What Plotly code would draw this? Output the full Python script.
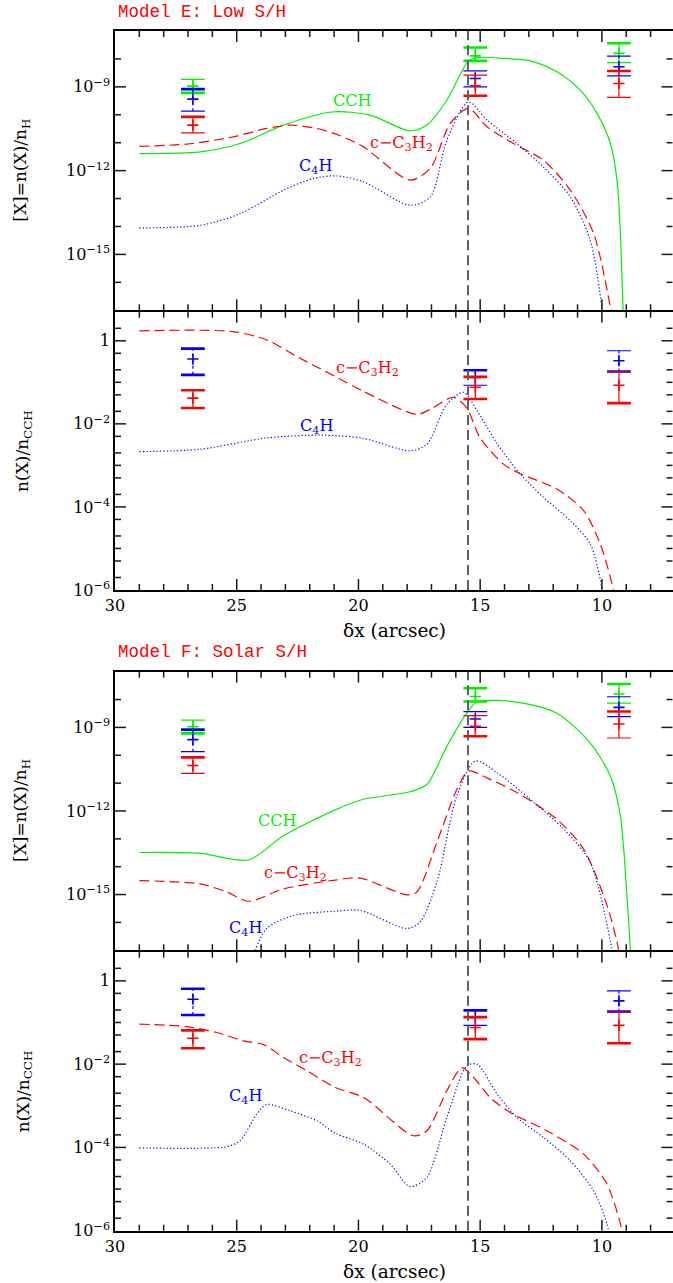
import numpy as np
import plotly.graph_objects as go

# ---------------- model curves (log10 of value) ----------------
# Model E : abundances [X] = n(X)/n_H
E_CCH_X = [29, 26.5, 24.86, 23.08, 21.1, 19.52, 17.88, 17.19, 16.37, 15.48, 15.13, 14.04, 12.94, 11.85, 10.89, 10.2, 9.65, 9.38, 9.24, 9.13, 9.08]
E_CCH_L = [-11.39, -11.33, -11.03, -10.37, -9.90, -10.01, -10.58, -10.37, -9.48, -8.07, -7.95, -7.98, -8.07, -8.46, -9.12, -9.95, -11.03, -12.34, -14.25, -17.0, -18.0]

E_C3H2_X = [29, 27.05, 25.14, 23.77, 22.81, 21.71, 20.75, 19.79, 17.88, 17.05, 16.23, 15.48, 14.72, 13.63, 12.4, 11.3, 10.34, 9.65, 9.5]
E_C3H2_L = [-11.13, -11.05, -10.79, -10.49, -10.37, -10.49, -10.75, -11.15, -12.34, -11.92, -10.31, -9.77, -10.43, -11.03, -11.63, -12.70, -14.25, -16.88, -17.6]

E_C4H_X = [29, 26.5, 24.86, 23.08, 21.85, 20.9, 19.79, 17.88, 17.05, 16.37, 15.48, 14.72, 13.49, 12.4, 11.3, 10.48, 10.0, 9.9]
E_C4H_L = [-14.05, -13.96, -13.54, -12.70, -12.28, -12.19, -12.40, -13.24, -12.94, -10.91, -9.54, -10.19, -11.03, -11.87, -12.94, -14.49, -16.88, -17.6]

# Model E : ratios n(X)/n_CCH
E_R_C3H2_X = [29, 25.14, 23.77, 22.4, 20.95, 19.79, 17.6, 17.05, 16.1, 15.55, 15.0, 14.04, 13.35, 11.85, 10.75, 10.07, 9.52, 9.45]
E_R_C3H2_L = [0.24, 0.22, 0.02, -0.42, -0.86, -1.22, -1.77, -1.65, -1.36, -1.62, -2.34, -2.97, -3.20, -3.57, -4.09, -4.89, -6.01, -6.3]

E_R_C4H_X = [29, 26.5, 23.77, 21.57, 19.79, 17.88, 17.19, 16.37, 15.68, 15.13, 14.3, 13.35, 12.4, 11.3, 10.48, 10.0, 9.9]
E_R_C4H_L = [-2.67, -2.61, -2.34, -2.27, -2.35, -2.65, -2.49, -1.53, -1.24, -1.68, -2.48, -3.21, -3.77, -4.33, -4.89, -5.93, -6.3]

# Model F : abundances
F_CCH_X = [29, 26.5, 24.52, 23.08, 20.95, 19.79, 17.88, 17.19, 16.37, 15.55, 15.13, 13.49, 11.85, 10.48, 9.65, 9.24, 8.97, 8.83, 8.78]
F_CCH_L = [-13.49, -13.52, -13.76, -12.89, -11.96, -11.58, -11.31, -11.05, -9.68, -8.49, -8.09, -8.09, -8.49, -9.56, -10.75, -12.18, -15.04, -17.0, -18.0]

F_C3H2_X = [29, 26.5, 25.4, 24.52, 23.08, 20.95, 19.93, 18.01, 17.6, 16.78, 15.96, 15.48, 14.72, 13.49, 11.85, 10.75, 9.79, 9.35, 9.25]
F_C3H2_L = [-14.5, -14.62, -14.91, -15.24, -14.80, -14.48, -14.41, -15.01, -14.91, -13.13, -11.23, -10.57, -10.81, -11.34, -12.30, -13.37, -15.39, -16.82, -17.4]

F_C4H_X = [29, 26.5, 25.0, 24.4, 24.25, 23.77, 22.67, 20.95, 19.93, 18.01, 17.47, 16.78, 15.96, 15.2, 14.3, 12.94, 11.57, 10.48, 9.59, 9.5]
F_C4H_L = [-17.5, -17.5, -17.5, -17.3, -17.0, -16.22, -15.75, -15.6, -15.57, -16.22, -15.99, -14.56, -11.46, -10.21, -10.63, -11.58, -12.65, -13.84, -16.94, -17.4]

# Model F : ratios
F_R_C3H2_X = [29, 27.05, 25.82, 24.73, 23.9, 23.08, 22.12, 20.95, 19.79, 17.74, 17.19, 16.37, 15.75, 15.27, 14.59, 13.77, 12.26, 10.75, 9.79, 9.17, 9.1]
F_R_C3H2_L = [-1.04, -1.10, -1.24, -1.44, -1.53, -1.84, -2.16, -2.56, -2.80, -3.72, -3.60, -2.64, -2.09, -2.32, -2.80, -3.16, -3.60, -4.16, -4.88, -6.0, -6.3]

F_R_C4H_X = [29, 25.41, 24.86, 24.18, 23.77, 22.81, 21.71, 20.95, 19.79, 18.7, 17.88, 17.19, 16.37, 15.55, 15.13, 14.3, 13.49, 12.4, 11.3, 10.34, 9.79, 9.7]
F_R_C4H_L = [-4.01, -3.98, -3.84, -3.20, -2.97, -3.12, -3.36, -3.66, -3.92, -4.40, -4.94, -4.72, -3.28, -2.04, -2.0, -2.72, -3.28, -3.76, -4.32, -5.04, -5.84, -6.1]

# ---------------- observations (log10) ----------------
OBS_X = [26.8, 15.2, 9.3]
OBS_CCH = [-8.975, -7.89, -7.80]
OBS_CCH_LO = [-9.215, -8.07, -8.13]
OBS_CCH_HI = [-8.735, -7.59, -7.44]
OBS_C4H = [-9.44, -8.70, -8.28]
OBS_C4H_LO = [-9.87, -9.00, -8.61]
OBS_C4H_HI = [-9.08, -8.43, -7.90]
OBS_C3H2 = [-10.37, -8.96, -8.88]
OBS_C3H2_LO = [-10.65, -9.32, -9.38]
OBS_C3H2_HI = [-10.075, -8.58, -8.43]

OBS_R_C4H = [-0.44, -0.88, -0.48]
OBS_R_C4H_LO = [-0.82, -1.07, -0.74]
OBS_R_C4H_HI = [-0.19, -0.71, -0.24]
OBS_R_C3H2 = [-1.38, -1.12, -1.07]
OBS_R_C3H2_LO = [-1.62, -1.40, -1.50]
OBS_R_C3H2_HI = [-1.19, -0.87, -0.75]

PEAK_X = 15.5

# ---------------- ticks ----------------
X_MAJOR = [30.0, 25.0, 20.0, 15.0, 10.0]
X_MINOR = [29.0, 28.0, 27.0, 26.0, 24.0, 23.0, 22.0, 21.0, 19.0, 18.0, 17.0, 16.0, 14.0, 13.0, 12.0, 11.0, 9.0, 8.0]
ABUND_MAJOR = [1e-15, 1e-12, 1e-9]
ABUND_TEXT = ['10<sup>\u221215</sup>', '10<sup>\u221212</sup>', '10<sup>\u22129</sup>']
ABUND_MINOR = [1e-16, 1e-14, 1e-13, 1e-11, 1e-10, 1e-8]
RATIO_MAJOR = [1e-6, 1e-4, 1e-2, 1.0]
RATIO_TEXT = ['10<sup>\u22126</sup>', '10<sup>\u22124</sup>', '10<sup>\u22122</sup>', '1']
RATIO_MINOR = [2e-6, 5e-6, 1e-5, 2e-5, 5e-5, 2e-4, 5e-4, 1e-3, 2e-3, 5e-3,
               2e-2, 5e-2, 1e-1, 2e-1, 5e-1, 2.0]

GREEN = '#00f000'
RED = '#ff0000'
BLUE = '#0000ff'
THICK, THIN = 2.6, 1.2

fig = go.Figure()


def curve(xs, ls, color, dash, ax):
    fig.add_trace(go.Scatter(x=xs, y=10 ** np.array(ls), mode='lines',
                             line=dict(color=color, width=1.2, dash=dash, shape='spline', smoothing=0.8),
                             xaxis='x' + ax, yaxis='y' + ax, hoverinfo='skip'))


def obs(val, lo, hi, color, bardash, lo_w, hi_w, ax):
    bx, by = [], []
    for x, a, b in zip(OBS_X, lo, hi):
        bx += [x, x, None]
        by += [10 ** a, 10 ** b, None]
    fig.add_trace(go.Scatter(x=bx, y=by, mode='lines', line=dict(color=color, width=1.2, dash=bardash),
                             xaxis='x' + ax, yaxis='y' + ax, hoverinfo='skip'))
    cx = OBS_X + OBS_X
    cy = list(10 ** np.array(lo)) + list(10 ** np.array(hi))
    cw = lo_w + hi_w
    fig.add_trace(go.Scatter(x=cx, y=cy, mode='markers',
                             marker=dict(symbol='line-ew', size=17, color=color,
                                         line=dict(color=color, width=cw)),
                             xaxis='x' + ax, yaxis='y' + ax, hoverinfo='skip'))
    fig.add_trace(go.Scatter(x=OBS_X, y=10 ** np.array(val), mode='markers',
                             marker=dict(symbol='cross-thin', size=8, color=color,
                                         line=dict(color=color, width=1.6)),
                             xaxis='x' + ax, yaxis='y' + ax, hoverinfo='skip'))


REDDASH = '10px,5px'
BLUEDOT = '1.2px,2.2px'

# panel 1 (Model E abundances)
curve(E_CCH_X, E_CCH_L, GREEN, 'solid', '')
curve(E_C3H2_X, E_C3H2_L, RED, REDDASH, '')
curve(E_C4H_X, E_C4H_L, BLUE, BLUEDOT, '')
# panel 2 (Model E ratios)
curve(E_R_C3H2_X, E_R_C3H2_L, RED, REDDASH, '2')
curve(E_R_C4H_X, E_R_C4H_L, BLUE, BLUEDOT, '2')
# panel 3 (Model F abundances)
curve(F_CCH_X, F_CCH_L, GREEN, 'solid', '3')
curve(F_C3H2_X, F_C3H2_L, RED, REDDASH, '3')
curve(F_C4H_X, F_C4H_L, BLUE, BLUEDOT, '3')
# panel 4 (Model F ratios)
curve(F_R_C3H2_X, F_R_C3H2_L, RED, REDDASH, '4')
curve(F_R_C4H_X, F_R_C4H_L, BLUE, BLUEDOT, '4')

for ax in ['', '3']:
    obs(OBS_CCH, OBS_CCH_LO, OBS_CCH_HI, GREEN, 'solid', [THICK, THICK, THIN], [THIN, THICK, THICK], ax)
    obs(OBS_C4H, OBS_C4H_LO, OBS_C4H_HI, BLUE, 'dot', [THIN, THIN, THIN], [THICK, THIN, THIN], ax)
    obs(OBS_C3H2, OBS_C3H2_LO, OBS_C3H2_HI, RED, 'solid', [THIN, THICK, THIN], [THICK, THIN, THICK], ax)
for ax in ['2', '4']:
    obs(OBS_R_C4H, OBS_R_C4H_LO, OBS_R_C4H_HI, BLUE, 'dot', [THICK, THIN, THICK], [THICK, THICK, THIN], ax)
    obs(OBS_R_C3H2, OBS_R_C3H2_LO, OBS_R_C3H2_HI, RED, 'solid', [THICK, THICK, THICK], [THICK, THICK, THIN], ax)

# ---------------- layout ----------------
W, H = 673, 1283
FONT = 'DejaVu Serif'


def px_x(p):
    return p / W


def px_y(p):
    return 1 - p / H


X_LEFT, X_RIGHT = 115, 672.5
XDOM = [px_x(X_LEFT), px_x(X_RIGHT)]
PANELS = {  # top, bottom in pixels
    '': (31, 310.25), '2': (311.75, 590), '3': (671.7, 950.25), '4': (951.75, 1230.7)}
XRANGE = [30, 7.1]
MAJ_LEN, MIN_LEN = 11, 6

layout = dict(template='none', width=W, height=H, margin=dict(l=0, r=0, t=0, b=0, pad=0),
              paper_bgcolor='white', plot_bgcolor='white', showlegend=False,
              font=dict(family=FONT, size=16, color='black'))

shapes = []
tick_line = dict(color='#1a1a1a', width=1.5)
w_px = X_RIGHT - X_LEFT
for ax, (top, bot) in PANELS.items():
    is_ratio = ax in ('2', '4')
    yrange = [-6, float(np.log10(5))] if is_ratio else [-17, -7]
    h_px = bot - top
    layout['xaxis' + ax] = dict(domain=XDOM, anchor='y' + ax, range=XRANGE, automargin=False,
                                tickmode='array', tickvals=X_MAJOR, ticks='',
                                showline=True, linewidth=1.5, linecolor='black', mirror=True,
                                showgrid=False, zeroline=False, showticklabels=is_ratio,
                                tickfont=dict(family=FONT, size=16), fixedrange=True)
    layout['yaxis' + ax] = dict(domain=[px_y(bot), px_y(top)], anchor='x' + ax, type='log',
                                automargin=False, range=yrange, tickmode='array',
                                tickvals=RATIO_MAJOR if is_ratio else ABUND_MAJOR,
                                ticktext=RATIO_TEXT if is_ratio else ABUND_TEXT, ticks='',
                                showline=True, linewidth=1.5, linecolor='black', mirror=True,
                                showgrid=False, zeroline=False,
                                tickfont=dict(family=FONT, size=16), fixedrange=True)

    # x tick marks: short vertical paths in paper/domain space (bottom and top of the frame)
    xa_off, xa_len = X_LEFT, w_px
    for vals, L in ((X_MAJOR, MAJ_LEN), (X_MINOR, MIN_LEN)):
        for v in vals:
            fx = (v - XRANGE[0]) / (XRANGE[1] - XRANGE[0])
            if fx <= 0.002 or fx >= 0.998:
                continue
            for y0, y1 in ((0.0, L / h_px), (1.0, 1 - L / h_px)):
                shapes.append(dict(type='line', xref='x' + ax + ' domain', yref='y' + ax + ' domain',
                                   x0=float(fx), x1=float(fx), y0=y0, y1=y1,
                                   line=tick_line, layer='above'))
    # y tick marks (left and right of the frame)
    ymaj = RATIO_MAJOR if is_ratio else ABUND_MAJOR
    ymin = RATIO_MINOR if is_ratio else ABUND_MINOR
    for vals, L in ((ymaj, MAJ_LEN), (ymin, MIN_LEN)):
        for v in vals:
            f = (np.log10(v) - yrange[0]) / (yrange[1] - yrange[0])
            if f <= 0.002 or f >= 0.998:
                continue
            for x0, x1 in ((0.0, L / w_px), (1.0, 1 - L / w_px)):
                shapes.append(dict(type='line', xref='x' + ax + ' domain', yref='y' + ax + ' domain',
                                   x0=x0, x1=x1, y0=float(f), y1=float(f), line=tick_line, layer='above'))

# vertical dashed line at the peak position
for ax in PANELS:
    shapes.append(dict(type='line', xref='x' + ax, yref=('y' + ax) + ' domain',
                       x0=PEAK_X, x1=PEAK_X, y0=0, y1=1,
                       line=dict(color='#606060', width=2, dash='10px,5px')))

layout['shapes'] = shapes
fig.update_layout(**layout)

ann = []
# model titles
ann.append(dict(text='Model E: Low S/H', xref='paper', yref='paper', x=px_x(116), y=px_y(12),
                xanchor='left', yanchor='middle', showarrow=False,
                font=dict(family='Liberation Mono', size=17.5, color=RED)))
ann.append(dict(text='Model F: Solar S/H', xref='paper', yref='paper', x=px_x(116), y=px_y(652),
                xanchor='left', yanchor='middle', showarrow=False,
                font=dict(family='Liberation Mono', size=17.5, color=RED)))
# y titles
for ax, (top, bot) in PANELS.items():
    is_ratio = ax in ('2', '4')
    txt = 'n(X)/n<sub>CCH</sub>' if is_ratio else '[X]=n(X)/n<sub>H</sub>'
    ann.append(dict(text=txt, xref='paper', yref='paper', x=px_x(24 if is_ratio else 22),
                    y=px_y((top + bot) / 2), textangle=-90, xanchor='center', yanchor='middle',
                    showarrow=False, font=dict(family=FONT, size=17, color='black')))
# x titles
for yp in (630, 1271.5):
    ann.append(dict(text='\u03b4x (arcsec)', xref='paper', yref='paper', x=px_x(394), y=px_y(yp),
                    xanchor='center', yanchor='middle', showarrow=False,
                    font=dict(family=FONT, size=18.5, color='black')))

# curve labels (data coordinates; y given in log10)
LABELS = [
    ('', 'CCH', 20.27, -9.48, GREEN),
    ('', 'c\u2212C<sub>3</sub>H<sub>2</sub>', 18.22, -11.02, RED),
    ('', 'C<sub>4</sub>H', 21.75, -11.84, BLUE),
    ('2', 'c\u2212C<sub>3</sub>H<sub>2</sub>', 19.61, -0.66, RED),
    ('2', 'C<sub>4</sub>H', 21.71, -2.06, BLUE),
    ('3', 'CCH', 23.33, -12.33, GREEN),
    ('3', 'c\u2212C<sub>3</sub>H<sub>2</sub>', 22.57, -14.26, RED),
    ('3', 'C<sub>4</sub>H', 24.66, -16.22, BLUE),
    ('4', 'c\u2212C<sub>3</sub>H<sub>2</sub>', 21.13, -1.87, RED),
    ('4', 'C<sub>4</sub>H', 24.66, -2.78, BLUE),
]
for ax, txt, x, y, col in LABELS:
    ann.append(dict(text=txt, xref='x' + ax, yref='y' + ax, x=x, y=y, showarrow=False,
                    xanchor='center', yanchor='middle',
                    font=dict(family=FONT, size=16, color=col)))

fig.update_layout(annotations=ann)
fig.write_html('out.html', config={'displayModeBar': False},
               post_script="document.body.style.margin='0';document.body.style.overflow='hidden';")
